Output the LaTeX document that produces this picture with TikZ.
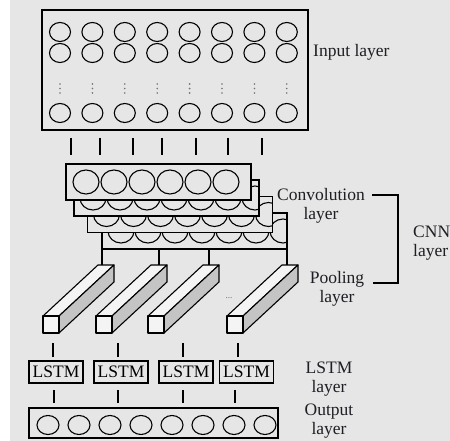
\documentclass[tikz,border=0pt]{standalone}
\usepackage{fontspec}
\setmainfont{Liberation Serif}
\usetikzlibrary{calc}
\definecolor{cBg}{HTML}{E6E6E6}
\definecolor{cSide}{HTML}{C4C4C4}
\definecolor{cFace}{HTML}{F4F4F4}
\definecolor{cText}{HTML}{1E1E24}
% one pooling bar: #1 = name, #2 = left edge of the front face
\newcommand{\poolbar}[2]{%
  \coordinate (#1) at (#2,316);
  \coordinate (#1-back) at (#2+55,265);
  \filldraw[barline, fill=cFace] (#1) -- ++(55,-51) -- ++(16,0) -- ++(-55,51) -- cycle;
  \filldraw[barline, fill=cSide] ($(#1)+(16,0)$) -- ++(55,-51) -- ++(0,17) -- ++(-55,51) -- cycle;
  \filldraw[barline, fill=cFace] (#1) rectangle ++(16,17);
}

\begin{document}
\begin{tikzpicture}[
    x=1pt, y=-1pt,
    font=\fontsize{17.5}{19.5}\selectfont,
    layerbox/.style={draw, line width=1.3pt, fill=cBg, inner sep=0pt, outer sep=0pt},
    convbox/.style={layerbox, minimum width=185pt, minimum height=36pt},
    lstmbox/.style={layerbox, minimum width=54pt, minimum height=22pt},
    neuron/.style={line width=1.1pt},
    tick/.style={line width=1.4pt},
    wire/.style={line width=1.2pt},
    barline/.style={line width=1.1pt, line join=round},
    lbl/.style={text=cText, align=center, inner sep=0pt}
]
\useasboundingbox (0,0) rectangle (450,441);
\fill[cBg] (0,0) rectangle (450,441);
\fill[white] (0,0) rectangle (10,441);

% --- input ---
\node[layerbox, minimum width=266pt, minimum height=120pt] (inp) at (175,70) {};
\foreach \i [evaluate=\i as \x using 60+32.4*\i] in {0,...,7} {
  \foreach \y in {32,53,113}
    \draw[neuron] (\x,\y) ellipse (10.5pt and 9.5pt);
  \foreach \y in {84,88.5,93}
    \fill[black!55] (\x,\y) circle (0.9pt);
}

% --- convolution stack (back to front) ---
\foreach \n/\cx/\cy in {c4/194.5/231, c3/180/214.5, c2/166.5/198} {
  \node[convbox] (\n) at (\cx,\cy) {};
  \begin{scope}
    \clip (\n.south west) rectangle (\n.north east);
    \foreach \i in {0,...,6}
      \draw[neuron] (\cx-73.5+27*\i,\cy) ellipse (13pt and 12pt);
  \end{scope}
  \draw[line width=1.3pt] (\n.south west) rectangle (\n.north east);
}
\node[convbox] (c1) at (158.5,182) {};
\foreach \i in {0,...,5}
  \draw[neuron] (86+28*\i,182) ellipse (13pt and 12pt);

\foreach \x in {71,100,133,162,196,228,262}
  \draw[tick] ($(inp.south -| \x,0)+(0,8)$) -- ($(c1.north -| \x,0)+(0,-9)$);

% --- pooling bars ---
\poolbar{pb1}{43}
\poolbar{pb2}{96}
\poolbar{pb3}{148}
\poolbar{pb4}{227}
\node[text=black!60, inner sep=0pt] (gap) at (229,298) {\fontsize{9}{9}\selectfont ...};

\draw[wire] (c4.south west) -- (c4.south west |- pb1-back);
\foreach \b/\dx in {pb2/57, pb3/107}
  \draw[wire] ($(c4.south west)+(\dx,0)$) coordinate (tmp) -- (tmp |- \b-back);
\draw[wire] (c4.south east) -- (c4.south east |- pb4-back);

% --- lstm ---
\foreach \n/\x in {1/56, 2/121, 3/186, 4/246.5}
  \node[lstmbox] (l\n) at (\x,372) {LSTM};
\foreach \n/\tx in {1/53, 2/118, 3/183, 4/238}
  \draw[tick] ($(l\n.north -| \tx,0)+(0,-4)$) -- ++(0,-14);

% --- output ---
\node[layerbox, minimum width=249pt, minimum height=30pt] (out) at (153.5,423) {};
\foreach \i in {0,...,7}
  \draw[neuron] (48+31*\i,425) ellipse (11pt and 9.5pt);
\foreach \n/\tx in {1/54, 2/118, 3/183, 4/235}
  \draw[tick] ($(l\n.south -| \tx,0)+(0,7)$) -- ($(out.north -| \tx,0)+(0,-5)$);

% labels
\node[lbl, anchor=west] (inlbl) at (313,52) {Input layer};
\node[lbl] (convlbl) at (321,206) {Convolution\\layer};
\node[lbl] (poollbl) at (337,289) {Pooling\\layer};
\node[lbl, align=left, anchor=west] (cnnlbl) at (413,243) {CNN\\layer};
\node[lbl] (lstmlbl) at (329,379) {LSTM\\layer};
\node[lbl] (outlbl) at (329,421) {Output\\layer};

% bracket
\coordinate (brtop) at (372,195);
\coordinate (brbot) at (373,283);
\draw[line width=1.3pt] (brtop) -- (brtop -| 398,0) -- (brbot -| 398,0) -- (brbot);

\end{tikzpicture}
\end{document}
